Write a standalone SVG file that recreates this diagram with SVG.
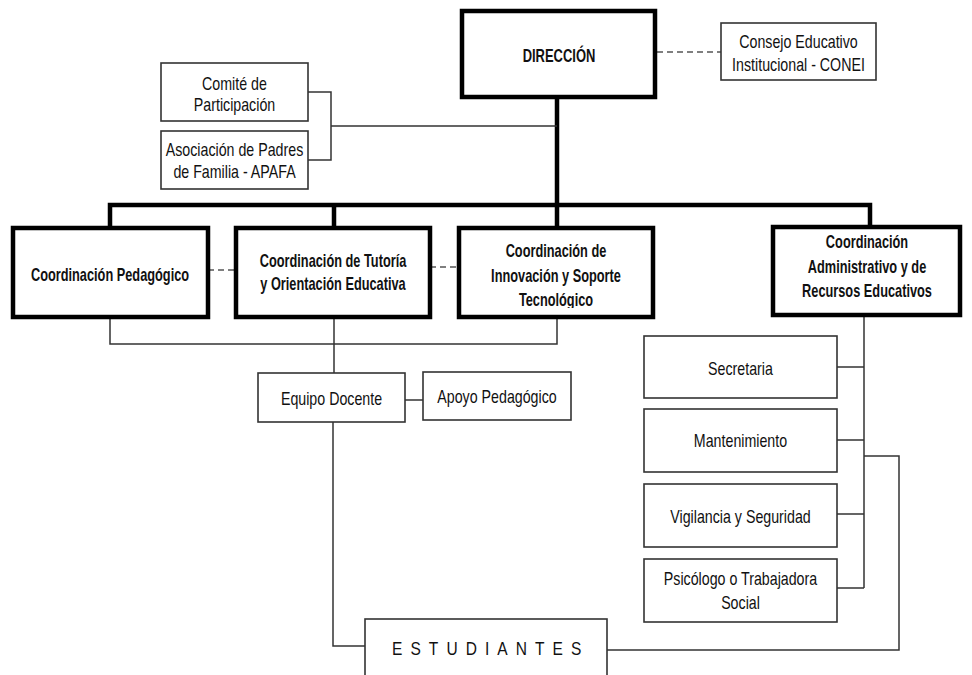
<svg xmlns="http://www.w3.org/2000/svg" width="972" height="675" viewBox="0 0 972 675">
<style>
.bg{fill:#fff}
.thick{fill:#fff;stroke:#000;stroke-width:4.5}
.thin{fill:#fff;stroke:#333;stroke-width:1.6}
.lt{fill:none;stroke:#000;stroke-width:4.5;stroke-linecap:square}
.ln{fill:none;stroke:#333;stroke-width:1.5}
.dash{fill:none;stroke:#555;stroke-width:1.5;stroke-dasharray:6 4}
text{font-family:"Liberation Sans",Arial,sans-serif;fill:#111;text-anchor:middle}
.b{font-weight:bold;font-size:18px}
.r{font-size:18px}
</style>
<defs>
<clipPath id="clipInn"><rect x="459" y="228" width="194" height="80"/></clipPath>
</defs>
<rect class="bg" width="972" height="675"/>
<g id="connectors">
<path class="lt" d="M557,98 V205 M110,205 H870 M110,205 V228 M334,205 V228 M557,205 V228 M870,205 V227"/>
<path class="dash" d="M657,52 H721 M208,270 H236 M430,267 H459"/>
<path class="ln" d="M308,92 H331 V160 H308 M331,126 H557"/>
<path class="ln" d="M110,317 V344 H557 V317"/>
<path class="ln" d="M334,317 V373"/>
<path class="ln" d="M405,400 H423"/>
<path class="ln" d="M333,422 V646 H365"/>
<path class="ln" d="M864,315 V588 M837,367 H864 M837,440 H864 M837,514 H864 M837,588 H864"/>
<path class="ln" d="M864,456 H899 V650 H607"/>
</g>
<g id="direccion">
<rect class="thick" x="462" y="11" width="193" height="86"/>
<text class="b" transform="translate(559,62) scale(0.72,1)">DIRECCIÓN</text>
</g>
<g id="conei">
<rect class="thin" x="721" y="23" width="155" height="57"/>
<text class="r" transform="translate(798.5,48) scale(0.79,1)"><tspan x="0">Consejo Educativo</tspan><tspan x="0" dy="23">Institucional - CONEI</tspan></text>
</g>
<g id="comite">
<rect class="thin" x="161" y="63" width="147" height="58"/>
<text class="r" transform="translate(234.5,90) scale(0.79,1)"><tspan x="0">Comité de</tspan><tspan x="0" dy="21">Participación</tspan></text>
</g>
<g id="apafa">
<rect class="thin" x="161" y="131" width="147" height="58"/>
<text class="r" transform="translate(234.5,156) scale(0.79,1)"><tspan x="0">Asociación de Padres</tspan><tspan x="0" dy="22">de Familia - APAFA</tspan></text>
</g>
<g id="pedagogico">
<rect class="thick" x="13" y="228" width="195" height="89"/>
<text class="b" transform="translate(110,281) scale(0.71,1)">Coordinación Pedagógico</text>
</g>
<g id="tutoria">
<rect class="thick" x="236" y="228" width="194" height="89"/>
<text class="b" transform="translate(333,267) scale(0.71,1)"><tspan x="0">Coordinación de Tutoría</tspan><tspan x="0" dy="23">y Orientación Educativa</tspan></text>
</g>
<g id="innovacion">
<rect class="thick" x="459" y="228" width="194" height="89"/>
<g clip-path="url(#clipInn)">
<text class="b" transform="translate(556,257) scale(0.71,1)"><tspan x="0">Coordinación de</tspan><tspan x="0" dy="25">Innovación y Soporte</tspan><tspan x="0" dy="24">Tecnológico</tspan></text>
</g>
</g>
<g id="administrativo">
<rect class="thick" x="773" y="227" width="187" height="88"/>
<text class="b" transform="translate(867,248) scale(0.71,1)"><tspan x="0">Coordinación</tspan><tspan x="0" dy="25">Administrativo y de</tspan><tspan x="0" dy="24">Recursos Educativos</tspan></text>
</g>
<g id="equipo">
<rect class="thin" x="258" y="373" width="147" height="49"/>
<text class="r" transform="translate(331.5,405) scale(0.79,1)">Equipo Docente</text>
</g>
<g id="apoyo">
<rect class="thin" x="423" y="372" width="148" height="48"/>
<text class="r" transform="translate(497,403) scale(0.79,1)">Apoyo Pedagógico</text>
</g>
<g id="secretaria">
<rect class="thin" x="644" y="336" width="193" height="62"/>
<text class="r" transform="translate(740.5,375) scale(0.79,1)">Secretaria</text>
</g>
<g id="mantenimiento">
<rect class="thin" x="644" y="409" width="193" height="63"/>
<text class="r" transform="translate(740.5,447) scale(0.79,1)">Mantenimiento</text>
</g>
<g id="vigilancia">
<rect class="thin" x="644" y="484" width="193" height="63"/>
<text class="r" transform="translate(740.5,523) scale(0.79,1)">Vigilancia y Seguridad</text>
</g>
<g id="psicologo">
<rect class="thin" x="644" y="559" width="193" height="63"/>
<text class="r" transform="translate(740.5,585) scale(0.79,1)"><tspan x="0">Psicólogo o Trabajadora</tspan><tspan x="0" dy="24">Social</tspan></text>
</g>
<g id="estudiantes">
<rect class="thin" x="365" y="619" width="242" height="70"/>
<text style="font-size:18.5px;text-anchor:start;letter-spacing:9.6px" transform="translate(392,655) scale(0.84,1)">ESTUDIANTES</text>
</g>
</svg>
